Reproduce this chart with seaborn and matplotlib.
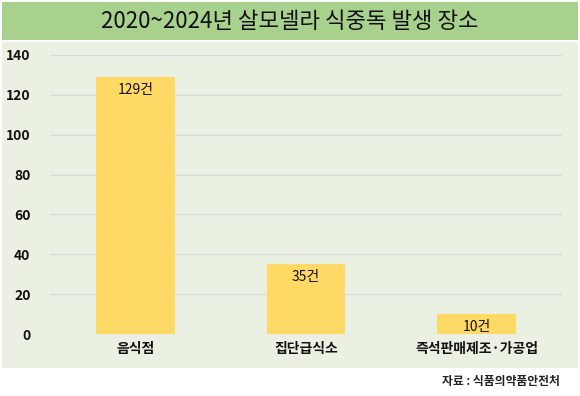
import matplotlib
matplotlib.use("Agg")
import matplotlib.pyplot as plt
import seaborn as sns
import pandas as pd
from matplotlib.patches import Rectangle

categories = ["음식점", "집단급식소", "즉석판매제조·가공업"]
values = [129, 35, 10]
labels = ["129건", "35건", "10건"]
yticks = [0, 20, 40, 60, 80, 100, 120, 140]

sns.set_theme(style="white")
plt.rcParams['font.family'] = ['Noto Sans CJK KR', 'DejaVu Sans']

fig = plt.figure(figsize=(5.8, 3.96), dpi=100)
fig.patch.set_facecolor("white")

# background panels
fig.add_artist(Rectangle((2/580, 1 - 40/396), 576/580, 38/396, transform=fig.transFigure,
                         facecolor="#A9D18E", edgecolor="none", zorder=0))
fig.add_artist(Rectangle((2/580, 1 - 368/396), 576/580, 326/396, transform=fig.transFigure,
                         facecolor="#EAF1E3", edgecolor="none", zorder=0))
fig.text(0.5, 1 - 21/396, "2020~2024년 살모넬라 식중독 발생 장소", ha="center", va="center",
         fontsize=16, color="#111111")
fig.text(0.965, 1 - 381/396, "자료 : 식품의약품안전처", ha="right", va="center",
         fontsize=8.5, fontweight="bold", color="#222222")

ax = fig.add_axes([50/580, (396-334)/396, 512/580, 279/396])
ax.set_facecolor("none")
df = pd.DataFrame({"cat": categories, "val": values})
sns.barplot(data=df, x="cat", y="val", color="#FFD966", saturation=1, width=0.46,
            linewidth=0, ax=ax, zorder=3)
ax.set_ylim(0, 140)
ax.set_xlim(-0.5, 2.5)
ax.set_yticks(yticks)
ax.set_yticklabels([str(t) for t in yticks], fontsize=10, fontweight="bold", color="#111111")
ax.tick_params(axis="y", length=0, pad=14)
ax.tick_params(axis="x", length=0, pad=6, labelsize=10, labelcolor="#111111")
for t in ax.get_xticklabels():
    t.set_fontweight("bold")
ax.yaxis.grid(True, color="#D9D9D9", linewidth=1)
ax.set_axisbelow(True)
for s in ax.spines.values():
    s.set_visible(False)
ax.set_xlabel("")
ax.set_ylabel("")
for i, (v, lab) in enumerate(zip(values, labels)):
    ax.text(i, v - 3, lab, ha="center", va="top", fontsize=10, fontweight="medium",
            color="#111111", zorder=5)

fig.savefig("out.png", dpi=100)
